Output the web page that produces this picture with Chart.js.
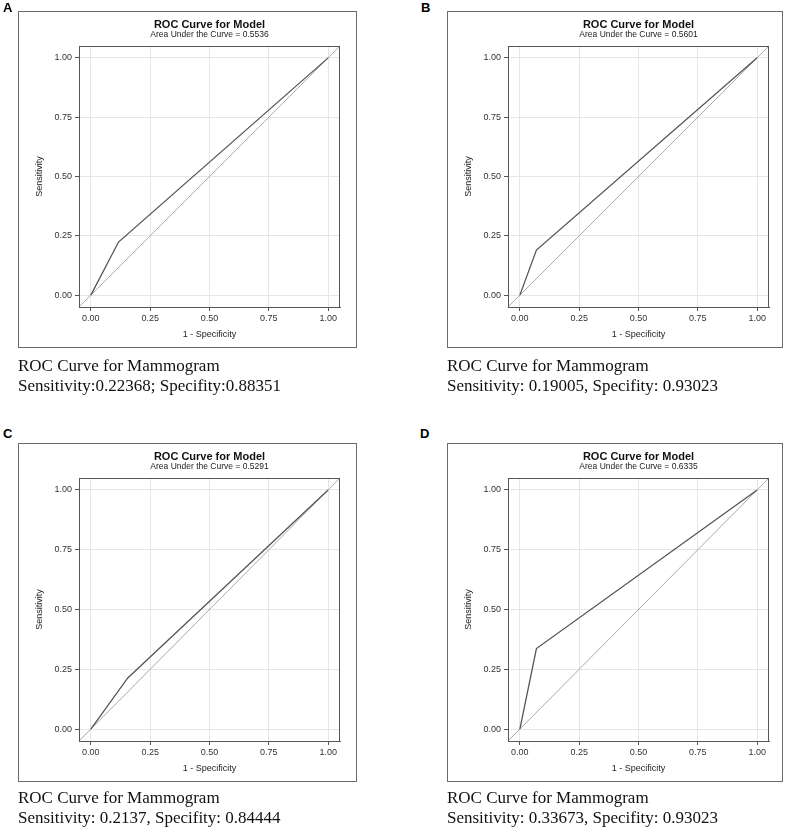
<!DOCTYPE html>
<html>
<head>
<meta charset="utf-8">
<script src="https://cdn.jsdelivr.net/npm/chart.js@4/dist/chart.umd.min.js"></script>
<style>
  html, body { margin:0; padding:0; background:#fff; }
  #wrap { position:relative; width:785px; height:832px; background:#fff; overflow:hidden; }
  .box { position:absolute; box-sizing:border-box; border:1px solid #6a6a6a; pointer-events:none; }
  canvas.cv { position:absolute; }
  .letter { position:absolute; font-family:"Liberation Sans", Arial, sans-serif; font-weight:bold; font-size:13px; line-height:13px; color:#000; }
  .cap { position:absolute; font-family:"Liberation Serif", "Times New Roman", serif; font-size:17px; line-height:20px; color:#111; white-space:nowrap; }
</style>
</head>
<body>
<div id="wrap"></div>
<script>
// ---------- data ----------
const panelLetters = ['A', 'B', 'C', 'D'];
const aucValues = ['0.5536', '0.5601', '0.5291', '0.6335'];
// ROC curve points: x = 1 - Specificity, y = Sensitivity
const rocX_A = [0, 0.11649, 1];
const rocY_A = [0, 0.22368, 1];
const rocX_B = [0, 0.06977, 1];
const rocY_B = [0, 0.19005, 1];
const rocX_C = [0, 0.15556, 1];
const rocY_C = [0, 0.21370, 1];
const rocX_D = [0, 0.06977, 1];
const rocY_D = [0, 0.33673, 1];
// chance (reference) diagonal across the plotting range
const diagX = [-0.05, 1.05];
const diagY = [-0.05, 1.05];
const tickValues = [0, 0.25, 0.5, 0.75, 1];
const axisMin = -0.05, axisMax = 1.05;
const captionLine1 = ['ROC Curve for Mammogram', 'ROC Curve for Mammogram', 'ROC Curve for Mammogram', 'ROC Curve for Mammogram'];
const captionLine2 = ['Sensitivity:0.22368; Specifity:0.88351', 'Sensitivity: 0.19005, Specifity: 0.93023', 'Sensitivity: 0.2137, Specifity: 0.84444', 'Sensitivity: 0.33673, Specifity: 0.93023'];

const rocXs = [rocX_A, rocX_B, rocX_C, rocX_D];
const rocYs = [rocY_A, rocY_B, rocY_C, rocY_D];

// ---------- layout ----------
const boxes = [
  {left:18,  top:11,  w:339, h:337},
  {left:447, top:11,  w:336, h:337},
  {left:18,  top:443, w:339, h:339},
  {left:447, top:443, w:336, h:339}
];
const letterPos = [{x:3, y:1}, {x:421, y:1}, {x:3, y:427}, {x:420, y:427}];
const capTop = [356, 356, 788, 788];

const SANS = '"Liberation Sans", Arial, sans-serif';
const wrap = document.getElementById('wrap');

const frame = {
  id: 'frame',
  afterDraw(chart) {
    const a = chart.chartArea, c = chart.ctx;
    c.save();
    c.strokeStyle = '#555';
    c.lineWidth = 1;
    c.strokeRect(Math.round(a.left) + 0.5, Math.round(a.top) + 0.5, Math.round(a.right - a.left) - 1, Math.round(a.bottom - a.top));
    c.restore();
  }
};

function pts(xs, ys) { return xs.map((x, i) => ({x: x, y: ys[i]})); }

boxes.forEach((b, i) => {
  const cv = document.createElement('canvas');
  cv.className = 'cv';
  cv.width = b.w; cv.height = b.h;
  cv.style.left = b.left + 'px'; cv.style.top = b.top + 'px';
  cv.style.width = b.w + 'px'; cv.style.height = b.h + 'px';
  wrap.appendChild(cv);

  const bx = document.createElement('div');
  bx.className = 'box';
  bx.style.left = b.left + 'px'; bx.style.top = b.top + 'px';
  bx.style.width = b.w + 'px'; bx.style.height = b.h + 'px';
  wrap.appendChild(bx);

  const lt = document.createElement('div');
  lt.className = 'letter';
  lt.style.left = letterPos[i].x + 'px'; lt.style.top = letterPos[i].y + 'px';
  lt.textContent = panelLetters[i];
  wrap.appendChild(lt);

  const cap = document.createElement('div');
  cap.className = 'cap';
  cap.style.left = b.left + 'px'; cap.style.top = capTop[i] + 'px';
  const l1 = document.createElement('div'); l1.textContent = captionLine1[i];
  const l2 = document.createElement('div'); l2.textContent = captionLine2[i];
  cap.appendChild(l1); cap.appendChild(l2);
  wrap.appendChild(cap);

  const rightPad = b.w - 61 - 261;

  const scaleCommon = {
    type: 'linear',
    min: axisMin, max: axisMax,
    afterBuildTicks: s => { s.ticks = tickValues.map(v => ({value: v})); },
    ticks: {
      callback: v => Number(v).toFixed(2),
      color: '#333',
      font: {family: SANS, size: 9},
      maxRotation: 0, autoSkip: false
    },
    grid: { color: '#e6e6e6', lineWidth: 1, drawTicks: true, tickLength: 4, tickColor: '#555' },
    border: { display: true, color: '#555', width: 1 }
  };

  new Chart(cv, {
    type: 'line',
    data: {
      datasets: [
        { label: 'ROC', data: pts(rocXs[i], rocYs[i]), borderColor: '#555', borderWidth: 1.3, pointRadius: 0, tension: 0, fill: false, order: 0 },
        { label: 'Chance', data: pts(diagX, diagY), borderColor: '#aaaaaa', borderWidth: 1, pointRadius: 0, tension: 0, fill: false, order: 1 }
      ]
    },
    options: {
      responsive: false,
      animation: false,
      devicePixelRatio: 1,
      layout: { padding: { left: 0, right: rightPad, top: 0, bottom: 0 } },
      plugins: {
        legend: { display: false },
        tooltip: { enabled: false },
        title: {
          display: true, text: 'ROC Curve for Model', fullSize: false,
          color: '#111', font: { family: SANS, size: 11, weight: 'bold', lineHeight: 1 },
          padding: { top: 8, bottom: 0 }
        },
        subtitle: {
          display: true, text: 'Area Under the Curve = ' + aucValues[i], fullSize: false,
          color: '#222', font: { family: SANS, size: 8.5, lineHeight: 1.2 },
          padding: { top: 0, bottom: 5.8 }
        }
      },
      scales: {
        x: Object.assign({}, scaleCommon, {
          position: 'bottom',
          ticks: Object.assign({}, scaleCommon.ticks, { padding: 2 }),
          title: { display: true, text: '1 - Specificity', color: '#222', font: { family: SANS, size: 9, lineHeight: 1.2 }, padding: { top: 2, bottom: 7.6 } },
          afterFit: s => { s.height = 41; }
        }),
        y: Object.assign({}, scaleCommon, {
          position: 'left',
          ticks: Object.assign({}, scaleCommon.ticks, { padding: 3 }),
          title: { display: true, text: 'Sensitivity', color: '#222', font: { family: SANS, size: 9, lineHeight: 1.2 }, padding: { top: 16.6, bottom: 0 } },
          afterFit: s => { s.width = 61; }
        })
      }
    },
    plugins: [frame]
  });
});
</script>
</body>
</html>
